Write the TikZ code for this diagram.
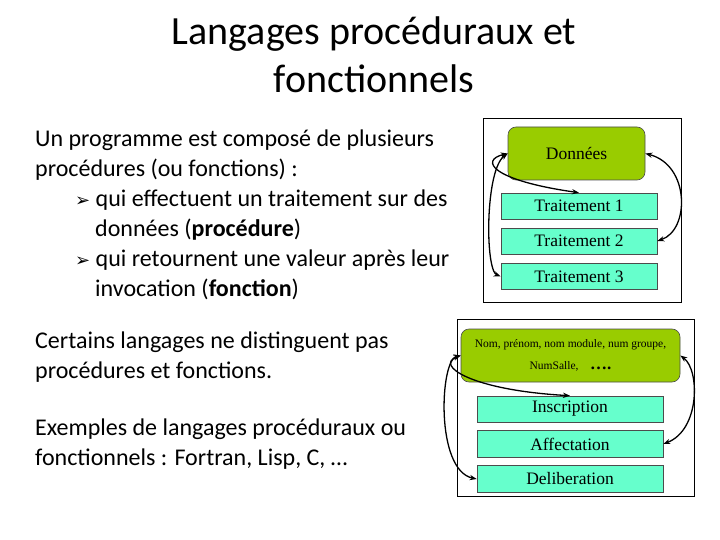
\documentclass[tikz,border=0pt]{standalone}
\usepackage{fontspec}
\setmainfont{Carlito}
\newfontfamily\tnr{Liberation Serif}
\newfontfamily\dv{DejaVu Sans}
\usetikzlibrary{arrows.meta}
\definecolor{olive1}{HTML}{99CC00}
\definecolor{aqua1}{HTML}{66FFCC}
\begin{document}
\begin{tikzpicture}[x=1pt,y=-1pt,
  green/.style={draw=black!70,fill=olive1,rounded corners=8pt,line width=0.6pt},
  tb/.style={draw=black!70,fill=aqua1,line width=0.6pt,font=\tnr\fontsize{17.5}{20}\selectfont},
  txt/.style={font=\fontsize{24}{30}\selectfont,align=left,anchor=north west,inner sep=0pt},
  arr/.style={{Stealth[length=7pt]}-{Stealth[length=7pt]},line width=1.3pt},
  arrs/.style={-{Stealth[length=7pt]},line width=1pt}]
\useasboundingbox (0,0) rectangle (720,540);
\node[font=\fontsize{40}{48}\selectfont,align=center] (title) at (374,55) {Langages procéduraux et\\fonctionnels};
\newcommand\ar{{\dv\fontsize{18}{20}\selectfont ➢}\ }
\node[txt] (p1) at (35,130) {Un programme est composé de plusieurs\\procédures (ou fonctions) :\\
\hspace*{40pt}\ar qui effectuent un traitement sur des\\\hspace*{60pt}données (\textbf{procédure})\\\hspace*{40pt}\ar qui retournent une valeur après leur\\\hspace*{60pt}invocation (\textbf{fonction})};
\node[txt] (p3) at (35,332) {Certains langages ne distinguent pas\\procédures et fonctions.};
\node[txt] (p4) at (35,419) {Exemples de langages procéduraux ou\\fonctionnels : Fortran, Lisp, C, …};
% top frame
\draw[line width=0.6pt] (483,118) rectangle (681,302);
\node[green,minimum width=137pt,minimum height=53pt,font=\tnr\fontsize{17.5}{20}\selectfont] (d) at (576.5,153.5) {Données};
\node[tb,minimum width=156pt,minimum height=26pt] (t1) at (579,206) {Traitement 1};
\node[tb,minimum width=156pt,minimum height=26pt] (t2) at (579,241) {Traitement 2};
\node[tb,minimum width=156pt,minimum height=26pt] (t3) at (579,276.5) {Traitement 3};
\draw[arr] (d.west) .. controls (480,160) and (490,180) .. (t1.north);
\draw[arr] (d.west) .. controls (485,170) and (485,270) .. (t3.west);
\draw[arr] (d.east) .. controls (690,165) and (690,230) .. (t2.east);
% bottom frame
\draw[line width=0.6pt] (457,319) rectangle (694,496);
\node[green,minimum width=219pt,minimum height=53pt,align=center,font=\tnr\fontsize{11.5}{22}\selectfont] (g) at (570.5,355.5) {Nom, prénom, nom module, num groupe,\\NumSalle,\quad{\fontsize{17}{20}\selectfont\bfseries ….}};
\node[tb,minimum width=186pt,minimum height=26pt] (i) at (570,409) {Inscription};
\node[tb,minimum width=186pt,minimum height=27pt] (a) at (570,444) {Affectation};
\node[tb,minimum width=186pt,minimum height=27pt] (de) at (570,479) {Deliberation};
\draw[arr] (g.west) .. controls (435,365) and (470,390) .. (i.north);
\draw[arr] (g.west) .. controls (440,360) and (435,470) .. (de.west);
\draw[arr] (g.east) .. controls (700,370) and (700,430) .. (a.east);
\end{tikzpicture}
\end{document}
